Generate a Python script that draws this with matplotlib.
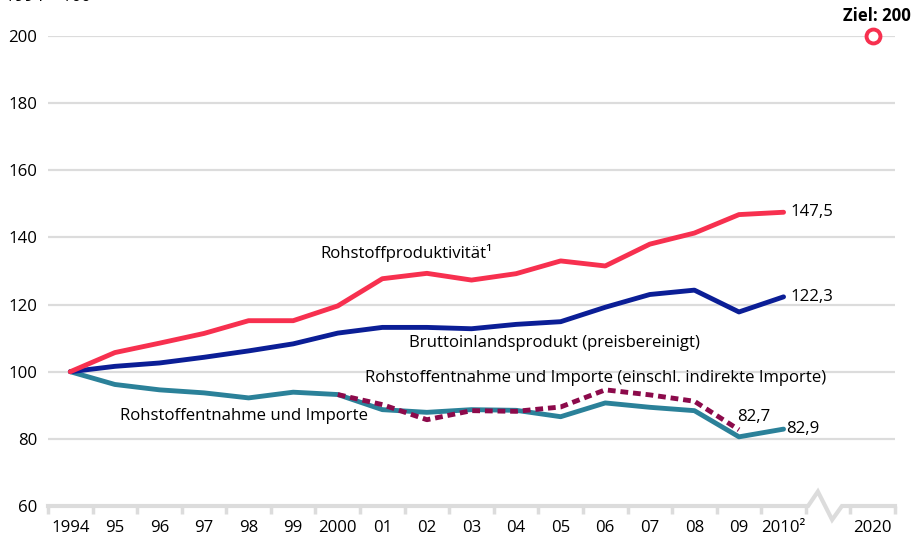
import matplotlib.pyplot as plt

plt.rcParams['font.family'] = ['Open Sans', 'DejaVu Sans']

# data (1994 = 100)
years = ['1994', '95', '96', '97', '98', '99', '2000', '01', '02', '03',
         '04', '05', '06', '07', '08', '09', '2010²']
productivity = [100, 105.7, 108.5, 111.4, 115.2, 115.2, 119.6, 127.7, 129.3,
                127.3, 129.2, 133.0, 131.5, 138.0, 141.3, 146.8, 147.5]
gdp = [100, 101.6, 102.6, 104.3, 106.2, 108.3, 111.5, 113.2, 113.2, 112.8,
       114.1, 114.9, 119.2, 123.0, 124.3, 117.8, 122.3]
extraction = [100, 96.2, 94.6, 93.7, 92.2, 93.9, 93.2, 88.7, 87.9, 88.7,
              88.5, 86.6, 90.7, 89.4, 88.4, 80.6, 82.9]
# incl. indirect imports, 2000 - 2009
indirect_years = ['2000', '01', '02', '03', '04', '05', '06', '07', '08', '09']
indirect = [93.2, 90.2, 85.7, 88.4, 88.2, 89.5, 94.6, 93.1, 91.2, 82.7]
target_label = '2020'
target = 200

red = '#f7304f'
blue = '#0b1e96'
teal = '#2b8199'
maroon = '#8c0a4b'
grey = '#dcdcdc'
fs = 12.1

fig = plt.figure(figsize=(9.12, 5.42), dpi=100)
ax = fig.add_axes([48 / 912, 36 / 542, 847 / 912, 470 / 542])

x = list(range(len(years)))
xi = [years.index(y) for y in indirect_years]
x_target = len(years) + 1

ax.set_xlim(-0.5, x_target + 0.5)
ax.set_ylim(60, 200)

for v in range(80, 201, 20):
    ax.axhline(v, color=grey, lw=1.6, zorder=0)

ax.plot(x, extraction, color=teal, lw=3.5, solid_capstyle='round', zorder=3)
ax.plot(xi, indirect, color=maroon, lw=3.5, linestyle=(0, (1.6, 1.0)),
        dash_capstyle='butt', zorder=4)
ax.plot(x, gdp, color=blue, lw=3.5, solid_capstyle='round', zorder=3)
ax.plot(x, productivity, color=red, lw=3.5, solid_capstyle='round', zorder=3)
ax.plot([x_target], [target], 'o', ms=10, mfc='white', mec=red, mew=2.8,
        clip_on=False, zorder=5)

# x axis line with break
last = len(years) - 1
ax.plot([-0.5, last + 0.55, last + 0.77, last + 1.09, last + 1.31, x_target + 0.5],
        [60, 60, 64.3, 55.9, 60, 60], color=grey, lw=3, clip_on=False,
        solid_joinstyle='miter', zorder=2)

for s in ax.spines.values():
    s.set_visible(False)

ax.set_xticks(x + [x_target])
ax.set_xticklabels(years + [target_label], fontsize=fs)
ax.set_xticks([i - 0.5 for i in x] + [last + 0.5, x_target - 0.5, x_target + 0.5],
              minor=True)
ax.tick_params(axis='x', which='major', length=0, pad=10)
ax.tick_params(axis='x', which='minor', length=6, width=2.5, color=grey)
ax.set_yticks(range(60, 201, 20))
ax.set_yticklabels([str(v) for v in range(60, 201, 20)], fontsize=fs)
ax.tick_params(axis='y', length=0, pad=8)

# labels
ax.text(5.6, 135.5, 'Rohstoffproduktivität¹', fontsize=fs, va='center')
ax.text(7.6, 108.6, 'Bruttoinlandsprodukt (preisbereinigt)', fontsize=fs, va='center')
ax.text(6.6, 98.2, 'Rohstoffentnahme und Importe (einschl. indirekte Importe)',
        fontsize=fs, va='center')
ax.text(1.12, 86.8, 'Rohstoffentnahme und Importe', fontsize=fs, va='center')
ax.text(last + 0.15, productivity[-1], f'{productivity[-1]:.1f}'.replace('.', ','),
        fontsize=fs, va='center')
ax.text(last + 0.15, gdp[-1], f'{gdp[-1]:.1f}'.replace('.', ','), fontsize=fs,
        va='center')
ax.text(last + 0.05, extraction[-1], f'{extraction[-1]:.1f}'.replace('.', ','),
        fontsize=fs, va='center')
ax.text(xi[-1] - 0.05, 86.5, f'{indirect[-1]:.1f}'.replace('.', ','), fontsize=fs,
        va='center')
ax.text(x_target + 0.85, 206, f'Ziel: {target}', fontsize=fs, fontweight='bold',
        ha='right', va='center', clip_on=False)
fig.text(5 / 912, 1.005, '1994 = 100', fontsize=fs, va='center')

fig.savefig('out.png', dpi=100)
